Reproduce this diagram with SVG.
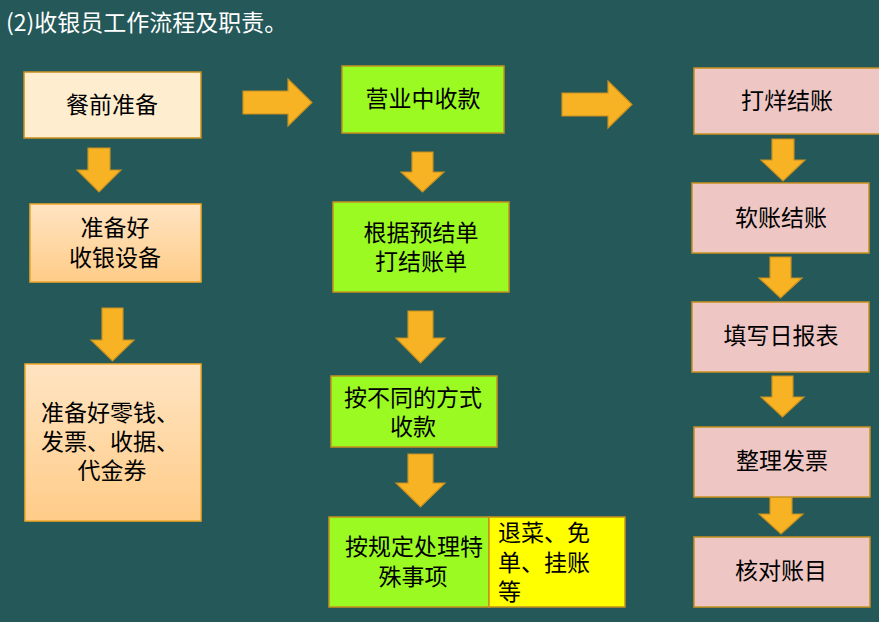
<svg xmlns="http://www.w3.org/2000/svg" width="879" height="622" viewBox="0 0 879 622">
<defs>
<linearGradient id="gOr" x1="0" y1="0" x2="0" y2="1">
<stop offset="0" stop-color="#FFE4C2"/>
<stop offset="1" stop-color="#FFCC88"/>
</linearGradient>
<style>
.t{font-family:"Noto Sans CJK SC","Noto Sans",sans-serif;font-size:23px;fill:#000;text-anchor:middle}
.tl{font-family:"Noto Sans CJK SC","Noto Sans",sans-serif;font-size:23px;fill:#000}
.title{font-family:"Noto Sans CJK SC","Noto Sans",sans-serif;font-size:23px;fill:#fff}
.arr{fill:#F7B324;stroke:#C8901E;stroke-width:1.2}
.bx{stroke:#C8901E;stroke-width:1.5}
.cream{fill:#FFEDCF}
.grad{fill:url(#gOr);stroke:#F2A828}
.green{fill:#9AFA22}
.yellow{fill:#FFFF00}
.pink{fill:#EEC6C3}
</style>
</defs>
<rect width="879" height="622" fill="#245859"/>
<text class="title" x="6" y="31">(2)收银员工作流程及职责。</text>

<g id="connectors">
<polygon class="arr" points="88,148 110,148 110,170 121,170 99,192 77,170 88,170"/>
<polygon class="arr" points="102,308 123,308 123,340 134,340 112.5,361 91,340 102,340"/>
<polygon class="arr" points="412,152 433,152 433,172 444,172 422.5,192 401,172 412,172"/>
<polygon class="arr" points="408,311 433,311 433,338 445,338 420.5,363 396,338 408,338"/>
<polygon class="arr" points="408,454 433,454 433,483 445,483 420.5,507 396,483 408,483"/>
<polygon class="arr" points="772,139 794,139 794,160 805,160 783,181 761,160 772,160"/>
<polygon class="arr" points="770,257 791,257 791,278 802,278 780.5,298 759,278 770,278"/>
<polygon class="arr" points="772,376 793,376 793,397 804,397 782.5,417 761,397 772,397"/>
<polygon class="arr" points="770,493 792,493 792,514 803,514 781,534 759,514 770,514"/>
<polygon class="arr" points="243,91 288,91 288,79 312,102.5 288,126 288,114 243,114"/>
<polygon class="arr" points="562,93 608,93 608,81 632,104.5 608,128 608,116 562,116"/>
</g>

<g id="n-canqian"><rect class="bx cream" x="24" y="72" width="177" height="66"/><text class="t" x="112" y="113">餐前准备</text></g>
<g id="n-shebei"><rect class="bx grad" x="30" y="204" width="171" height="78"/><text class="t" x="115" y="236">准备好</text><text class="t" x="115" y="266">收银设备</text></g>
<g id="n-lingqian"><rect class="bx grad" x="25" y="364" width="176" height="157"/><text class="tl" x="41" y="421">准备好零钱、</text><text class="tl" x="41" y="450">发票、收据、</text><text class="t" x="112" y="479">代金券</text></g>

<g id="n-yingye"><rect class="bx green" x="342" y="66" width="162" height="67"/><text class="t" x="423" y="107">营业中收款</text></g>
<g id="n-jiezhang"><rect class="bx green" x="333" y="202" width="176" height="90"/><text class="t" x="421" y="241">根据预结单</text><text class="t" x="421" y="270">打结账单</text></g>
<g id="n-fangshi"><rect class="bx green" x="331" y="376" width="166" height="71"/><text class="t" x="413" y="406">按不同的方式</text><text class="t" x="413" y="435">收款</text></g>
<g id="n-teshu"><rect class="bx green" x="329" y="517" width="160" height="90"/><text class="t" x="414" y="555">按规定处理特</text><text class="t" x="413" y="585">殊事项</text></g>
<g id="n-tuicai"><rect class="bx yellow" x="489" y="517" width="136" height="90"/><text class="tl" x="498" y="541">退菜、免</text><text class="tl" x="498" y="571">单、挂账</text><text class="tl" x="498" y="600">等</text></g>

<g id="n-dayang"><rect class="bx pink" x="694" y="68" width="186" height="66"/><text class="t" x="787" y="109">打烊结账</text></g>
<g id="n-ruanzhang"><rect class="bx pink" x="692" y="183" width="177" height="70"/><text class="t" x="781" y="226">软账结账</text></g>
<g id="n-ribao"><rect class="bx pink" x="692" y="302" width="177" height="70"/><text class="t" x="781" y="344">填写日报表</text></g>
<g id="n-fapiao"><rect class="bx pink" x="694" y="427" width="176" height="70"/><text class="t" x="782" y="469">整理发票</text></g>
<g id="n-hedui"><rect class="bx pink" x="694" y="537" width="176" height="70"/><text class="t" x="781" y="579">核对账目</text></g>
</svg>
